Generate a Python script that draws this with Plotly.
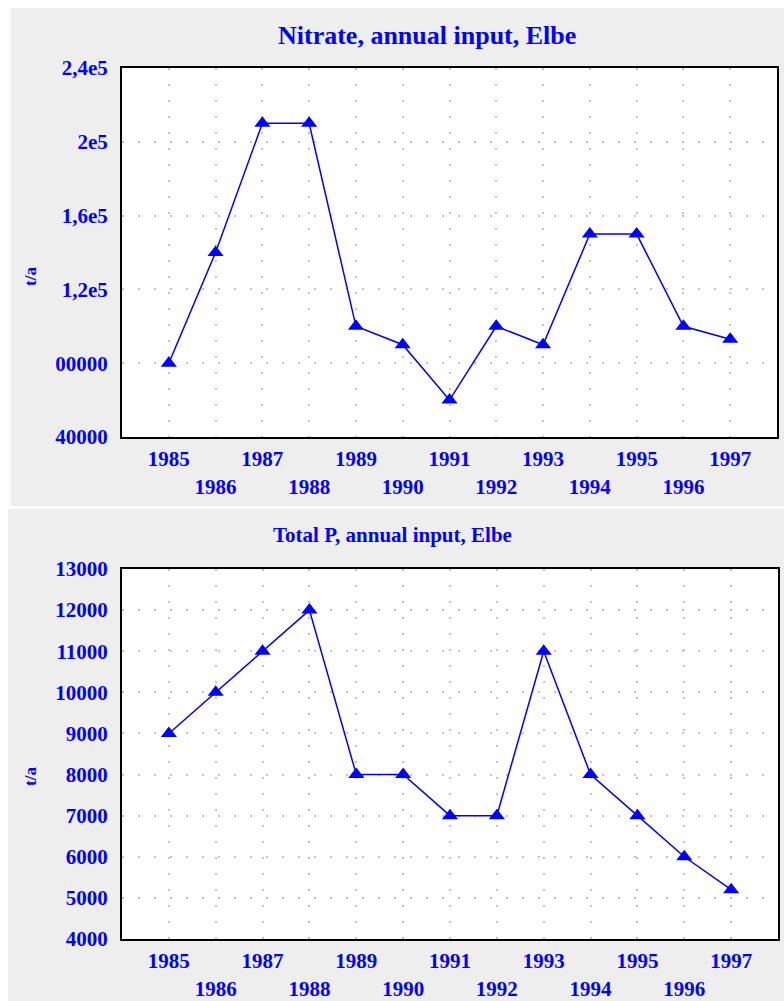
import plotly.graph_objects as go

years = [1985, 1986, 1987, 1988, 1989, 1990, 1991, 1992, 1993, 1994, 1995, 1996, 1997]
nitrate = [80000, 140000, 210000, 210000, 100000, 90000, 60000, 100000, 90000, 150000, 150000, 100000, 93000]
total_p = [9000, 10000, 11000, 12000, 8000, 8000, 7000, 7000, 11000, 8000, 7000, 6000, 5200]

nitrate_tickvals = [40000, 80000, 120000, 160000, 200000, 240000]
nitrate_ticktext = ["40000", "00000", "1,2e5", "1,6e5", "2e5", "2,4e5"]
p_tickvals = [4000, 5000, 6000, 7000, 8000, 9000, 10000, 11000, 12000, 13000]
p_ticktext = [str(v) for v in p_tickvals]
year_ticktext = [str(y) if y % 2 == 1 else "<br>" + str(y) for y in years]

titles = ["Nitrate, annual input, Elbe", "Total P, annual input, Elbe"]
ytitle = "t/a"

W, H = 784, 1001
BLUE = "#0000FF"
GRAY = "#EEEEEE"
FONT = "Liberation Serif"


def py(px):
    return 1 - px / H


def px_x(px):
    return px / W


fig = go.Figure()
fig.add_trace(go.Scatter(x=years, y=nitrate, mode="lines+markers", xaxis="x", yaxis="y",
                         line=dict(color=BLUE, width=1.5),
                         marker=dict(symbol="triangle-up", size=14, color=BLUE)))
fig.add_trace(go.Scatter(x=years, y=total_p, mode="lines+markers", xaxis="x2", yaxis="y2",
                         line=dict(color=BLUE, width=1.5),
                         marker=dict(symbol="triangle-up", size=14, color=BLUE)))

tickfont = dict(family=FONT, size=21, color=BLUE, weight="bold")
grid = dict(showgrid=True, gridcolor="#C4C4C4", gridwidth=2, griddash="2px,14px")
axline = dict(showline=True, linecolor="black", linewidth=2, mirror=True, zeroline=False,
              automargin=False)

fig.update_layout(
    width=W, height=H, showlegend=False,
    margin=dict(l=0, r=0, t=0, b=0, pad=0, autoexpand=False),
    paper_bgcolor="white", plot_bgcolor="white",
    xaxis=dict(domain=[px_x(122), px_x(777)], range=[1984, 1998], anchor="y",
               tickvals=years, ticktext=year_ticktext, tickfont=tickfont,
               ticks="outside", ticklen=2, tickcolor="rgba(0,0,0,0)", **grid, **axline),
    yaxis=dict(domain=[py(437), py(68)], range=[40000, 240000], anchor="x",
               tickvals=nitrate_tickvals, ticktext=nitrate_ticktext, tickfont=tickfont,
               ticks="outside", ticklen=8, tickcolor="rgba(0,0,0,0)", **grid, **axline),
    xaxis2=dict(domain=[px_x(122), px_x(778)], range=[1984, 1998], anchor="y2",
                tickvals=years, ticktext=year_ticktext, tickfont=tickfont,
                ticks="outside", ticklen=2, tickcolor="rgba(0,0,0,0)", **grid, **axline),
    yaxis2=dict(domain=[py(939), py(569)], range=[4000, 13000], anchor="x2",
                tickvals=p_tickvals, ticktext=p_ticktext, tickfont=tickfont,
                ticks="outside", ticklen=8, tickcolor="rgba(0,0,0,0)", **grid, **axline),
)

shapes = [
    dict(type="rect", xref="paper", yref="paper", x0=px_x(11), x1=1, y0=py(506), y1=py(8),
         fillcolor=GRAY, line=dict(width=0), layer="below"),
    dict(type="rect", xref="paper", yref="paper", x0=px_x(8), x1=1, y0=0, y1=py(509),
         fillcolor=GRAY, line=dict(width=0), layer="below"),
    dict(type="rect", xref="paper", yref="paper", x0=px_x(122), x1=px_x(777), y0=py(437), y1=py(68),
         fillcolor="white", line=dict(width=0), layer="below"),
    dict(type="rect", xref="paper", yref="paper", x0=px_x(122), x1=px_x(778), y0=py(939), y1=py(569),
         fillcolor="white", line=dict(width=0), layer="below"),
]
fig.update_layout(shapes=shapes)

annotations = [
    dict(text=titles[0], xref="paper", yref="paper", x=px_x(427), y=py(35), showarrow=False,
         xanchor="center", yanchor="middle",
         font=dict(family=FONT, size=26, color=BLUE, weight="bold")),
    dict(text=titles[1], xref="paper", yref="paper", x=px_x(392), y=py(535), showarrow=False,
         xanchor="center", yanchor="middle",
         font=dict(family=FONT, size=21, color=BLUE, weight="bold")),
    dict(text=ytitle, xref="paper", yref="paper", x=px_x(30), y=py(277), showarrow=False,
         textangle=-90, xanchor="center", yanchor="middle",
         font=dict(family=FONT, size=17, color=BLUE, weight="bold")),
    dict(text=ytitle, xref="paper", yref="paper", x=px_x(30), y=py(777), showarrow=False,
         textangle=-90, xanchor="center", yanchor="middle",
         font=dict(family=FONT, size=17, color=BLUE, weight="bold")),
]
fig.update_layout(annotations=annotations)

fig.write_html("out.html", config={"displayModeBar": False},
               post_script="document.body.style.margin='0';document.body.style.padding='0';"
                           "document.documentElement.style.overflow='hidden';")
